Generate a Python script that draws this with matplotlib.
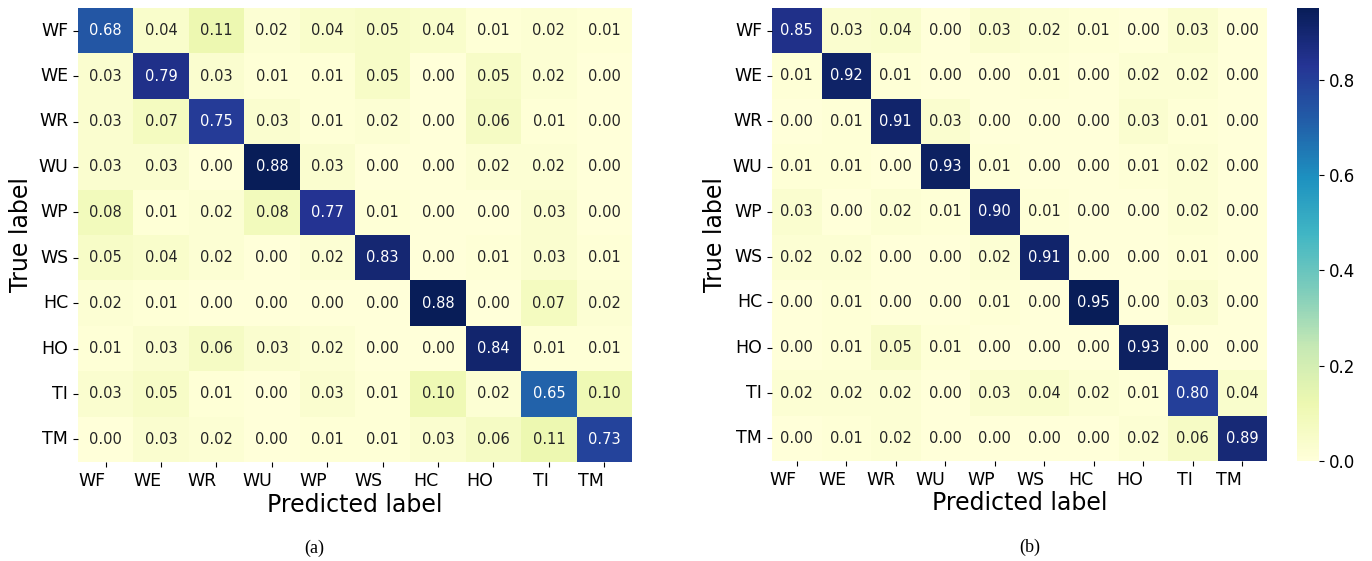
import matplotlib.pyplot as plt
import seaborn as sns
import numpy as np

labels = ['WF', 'WE', 'WR', 'WU', 'WP', 'WS', 'HC', 'HO', 'TI', 'TM']

# Confusion matrix, model (a)
cm_a = np.array([
    [0.68, 0.04, 0.11, 0.02, 0.04, 0.05, 0.04, 0.01, 0.02, 0.01],
    [0.03, 0.79, 0.03, 0.01, 0.01, 0.05, 0.00, 0.05, 0.02, 0.00],
    [0.03, 0.07, 0.75, 0.03, 0.01, 0.02, 0.00, 0.06, 0.01, 0.00],
    [0.03, 0.03, 0.00, 0.88, 0.03, 0.00, 0.00, 0.02, 0.02, 0.00],
    [0.08, 0.01, 0.02, 0.08, 0.77, 0.01, 0.00, 0.00, 0.03, 0.00],
    [0.05, 0.04, 0.02, 0.00, 0.02, 0.83, 0.00, 0.01, 0.03, 0.01],
    [0.02, 0.01, 0.00, 0.00, 0.00, 0.00, 0.88, 0.00, 0.07, 0.02],
    [0.01, 0.03, 0.06, 0.03, 0.02, 0.00, 0.00, 0.84, 0.01, 0.01],
    [0.03, 0.05, 0.01, 0.00, 0.03, 0.01, 0.10, 0.02, 0.65, 0.10],
    [0.00, 0.03, 0.02, 0.00, 0.01, 0.01, 0.03, 0.06, 0.11, 0.73],
])

# Confusion matrix, model (b)
cm_b = np.array([
    [0.85, 0.03, 0.04, 0.00, 0.03, 0.02, 0.01, 0.00, 0.03, 0.00],
    [0.01, 0.92, 0.01, 0.00, 0.00, 0.01, 0.00, 0.02, 0.02, 0.00],
    [0.00, 0.01, 0.91, 0.03, 0.00, 0.00, 0.00, 0.03, 0.01, 0.00],
    [0.01, 0.01, 0.00, 0.93, 0.01, 0.00, 0.00, 0.01, 0.02, 0.00],
    [0.03, 0.00, 0.02, 0.01, 0.90, 0.01, 0.00, 0.00, 0.02, 0.00],
    [0.02, 0.02, 0.00, 0.00, 0.02, 0.91, 0.00, 0.00, 0.01, 0.00],
    [0.00, 0.01, 0.00, 0.00, 0.01, 0.00, 0.95, 0.00, 0.03, 0.00],
    [0.00, 0.01, 0.05, 0.01, 0.00, 0.00, 0.00, 0.93, 0.00, 0.00],
    [0.02, 0.02, 0.02, 0.00, 0.03, 0.04, 0.02, 0.01, 0.80, 0.04],
    [0.00, 0.01, 0.02, 0.00, 0.00, 0.00, 0.00, 0.02, 0.06, 0.89],
])

fig = plt.figure(figsize=(13.72, 5.61), dpi=100)
W, H = 1372, 561

def px_axes(x0, y0, x1, y1):
    # axes placed by pixel box (left, top, right, bottom)
    return fig.add_axes([x0 / W, 1 - y1 / H, (x1 - x0) / W, (y1 - y0) / H])

ax_a = px_axes(78, 8, 632, 462)
ax_b = px_axes(772, 8, 1267, 461)
cax = px_axes(1297, 8, 1319, 461)

def draw_cm(ax, cm, cbar_ax=None):
    sns.heatmap(cm, ax=ax, annot=True, fmt='.2f', cmap='YlGnBu',
                vmin=0, xticklabels=labels, yticklabels=labels,
                cbar=cbar_ax is not None, cbar_ax=cbar_ax,
                annot_kws={'fontsize': 10.5})
    ax.set_xlabel('Predicted label', fontsize=17, labelpad=2)
    ax.set_ylabel('True label', fontsize=17)
    ax.tick_params(axis='both', labelsize=12.5)
    ax.set_yticklabels(labels, rotation=0)
    ax.set_xticklabels(labels, rotation=0, ha='right')

draw_cm(ax_a, cm_a)
draw_cm(ax_b, cm_b, cbar_ax=cax)
cax.tick_params(labelsize=12)

# Sub-figure captions
fig.text(314 / W, 1 - 548 / H, '(a)', ha='center', va='center',
         fontsize=13, family='Liberation Serif')
fig.text(1030 / W, 1 - 547 / H, '(b)', ha='center', va='center',
         fontsize=13, family='Liberation Serif')

fig.savefig('out.png', dpi=100)
